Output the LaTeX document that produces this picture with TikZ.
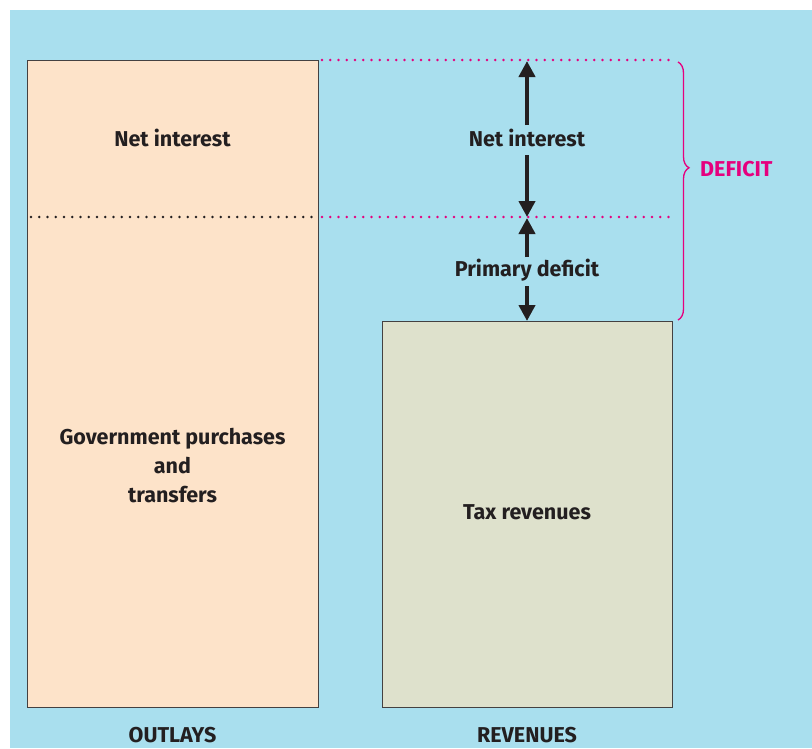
\documentclass[tikz,border=0pt]{standalone}
\usepackage{fontspec}
\setmainfont{Fira Sans}
\usetikzlibrary{arrows.meta,decorations.pathreplacing}
\definecolor{bgblue}{HTML}{A9DFEE}
\definecolor{outfill}{HTML}{FDE3C9}
\definecolor{revfill}{HTML}{DEE1CC}
\definecolor{mag}{HTML}{E5007E}
\definecolor{ink}{HTML}{231F20}
\tikzset{
  box/.style={draw=ink!85, line width=1.4pt, anchor=north west, inner sep=0pt},
  lbl/.style={font=\fontsize{21.5}{29}\selectfont\bfseries, text=ink, align=center, inner sep=0pt},
  arr/.style={draw=ink, line width=4pt, -{Triangle[width=16pt,length=16pt]}},
  dots/.style={line width=2.6pt, line cap=round, dash pattern=on 0pt off 8.25pt},
}
\begin{document}
\begin{tikzpicture}[x=1pt,y=-1pt]
\useasboundingbox (0,0) rectangle (812,748);
\fill[bgblue] (10,10) rectangle (812,748);
% boxes
\node[box, fill=outfill, minimum width=291pt, minimum height=647pt] (outlays) at (27,60) {};
\node[box, fill=revfill, minimum width=290pt, minimum height=386pt] (revs) at (382,321) {};
% dotted lines
\coordinate (topL) at (322,60);
\coordinate (topR) at (672,60);
\coordinate (midA) at (31,217);
\coordinate (midB) at (316,217);
\coordinate (midC) at (322,217);
\coordinate (midD) at (672,217);
\draw[dots, mag] (topL) -- (topR);
\draw[dots, ink] (midA) -- (midB);
\draw[dots, mag] (midC) -- (midD);
% brace
\coordinate (brT) at (678,62);
\coordinate (brB) at (678,320);
\draw[mag, line width=1.3pt, decorate, decoration={brace, amplitude=11pt, aspect=0.41}] (brT) -- (brB);
\node[lbl, text=mag, anchor=west] (deficit) at (700,169) {DEFICIT};
% labels
\node[lbl] (ni1) at (172.5,138) {Net interest};
\node[lbl] (gov) at (172.5,466) {Government purchases\\and\\transfers};
\node[lbl] (tax) at (527,512) {Tax revenues};
\node[lbl] (out) at (172.5,735) {OUTLAYS};
\node[lbl] (rev) at (527,735) {REVENUES};
\node[lbl] (ni2) at (527,138) {Net interest};
\node[lbl] (pd) at (527,270) {Primary deficit};
% arrows
\coordinate (a1s) at (527,125);
\coordinate (a1e) at (527,61);
\coordinate (a2s) at (527,155);
\coordinate (a2e) at (527,217);
\coordinate (a3s) at (527,257);
\coordinate (a3e) at (527,218);
\coordinate (a4s) at (527,286);
\coordinate (a4e) at (527,321);
\draw[arr] (a1s) -- (a1e);
\draw[arr] (a2s) -- (a2e);
\draw[arr] (a3s) -- (a3e);
\draw[arr] (a4s) -- (a4e);
\end{tikzpicture}
\end{document}
